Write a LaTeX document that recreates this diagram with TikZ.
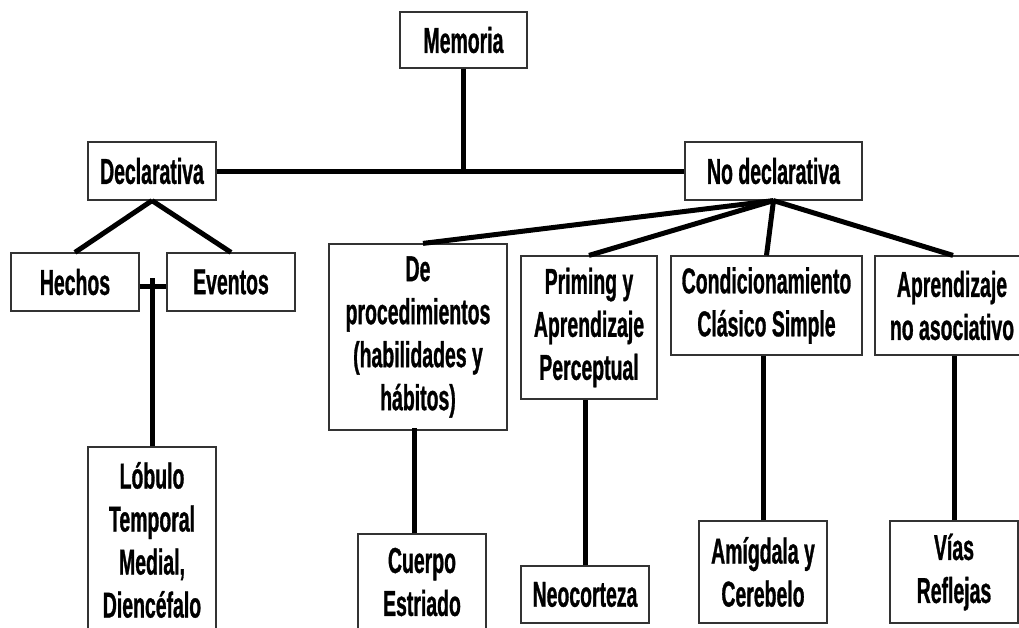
\documentclass[tikz,border=0pt]{standalone}
\usepackage{fontspec}
\setmainfont[FakeStretch=0.54,BoldFeatures={FakeBold=0.8}]{Liberation Sans}
\usepackage{tikz}
\usepackage{xcolor}
\tikzstyle{box}=[rectangle,draw=black!80,line width=1.2pt,align=center,inner sep=0pt,font=\fontsize{36}{43}\selectfont\bfseries]
\tikzstyle{link}=[line width=5pt,black]

\begin{document}
\begin{tikzpicture}[x=1pt,y=-1pt]
      \useasboundingbox (0,0) rectangle (1019,627);
      \node (mem) [box,minimum width=127,minimum height=56] at (463.5,40) {Memoria};
      \node (decl) [box,minimum width=128,minimum height=58] at (152,171) {Declarativa};
      \node (nodecl) [box,minimum width=177,minimum height=58] at (773.5,171) {No declarativa};
      \node (hechos) [box,minimum width=128,minimum height=58] at (75,282) {Hechos};
      \node (eventos) [box,minimum width=128,minimum height=58] at (231,282) {Eventos};
      \node (lobulo) [box,minimum width=128,minimum height=186] at (152,540) {L\'obulo\\Temporal\\Medial,\\Dienc\'efalo};
      \node (proc) [box,minimum width=178,minimum height=186] at (418,337) {De\\procedimientos\\(habilidades y\\h\'abitos)};
      \node (priming) [box,minimum width=136,minimum height=143] at (589,327.5) {Priming y\\Aprendizaje\\Perceptual};
      \node (cond) [box,minimum width=191,minimum height=99] at (766.5,305.5) {Condicionamiento\\Cl\'asico Simple};
      \node (noasoc) [box,minimum width=154,minimum height=99] at (952,305.5) {Aprendizaje\\no asociativo};
      \node (cuerpo) [box,minimum width=128,minimum height=96] at (422,582) {Cuerpo\\Estriado};
      \node (neo) [box,minimum width=128,minimum height=57] at (585,594.5) {Neocorteza};
      \node (amig) [box,minimum width=128,minimum height=102] at (763,572) {Am\'igdala y\\Cerebelo};
      \node (vias) [box,minimum width=128,minimum height=102] at (954,572) {V\'ias\\Reflejas};
      \draw [link] (decl) -- (nodecl);
      \draw [link] (mem.south) -- (mem.south |- decl.east);
      \draw [link] (decl.south) -- (hechos.north);
      \draw [link] (decl.south) -- (eventos.north);
      \draw [link] ([yshift=-4]hechos.east) -- ([yshift=-4]eventos.west);
      \draw [link] (lobulo.north) -- (lobulo.north |- 0,278);
      \draw [link] (nodecl.south) -- ([xshift=5]proc.north);
      \draw [link] (nodecl.south) -- (priming.north);
      \draw [link] (nodecl.south) -- (cond.north);
      \draw [link] (nodecl.south) -- ([xshift=1]noasoc.north);
      \draw [link] ([xshift=-8]cuerpo.north) -- ([xshift=-8,yshift=3]cuerpo.north |- proc.south);
      \draw [link] (neo.north) -- (neo.north |- priming.south);
      \draw [link] (amig.north) -- (amig.north |- cond.south);
      \draw [link] (vias.north) -- (vias.north |- noasoc.south);
    \end{tikzpicture}
\end{document}
